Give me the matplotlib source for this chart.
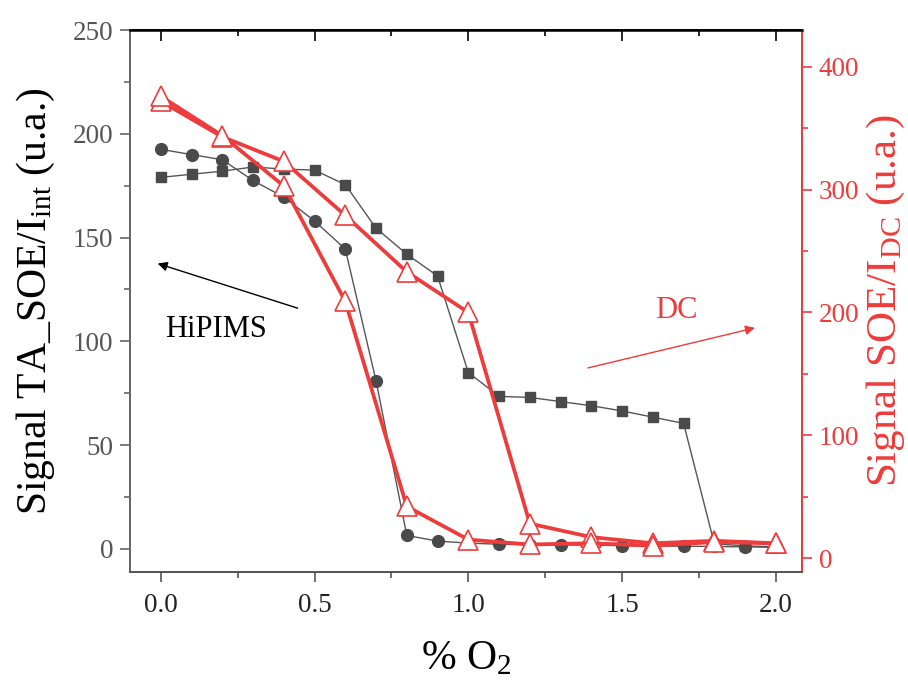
import matplotlib
matplotlib.use("Agg")
import matplotlib.pyplot as plt
from matplotlib.ticker import MultipleLocator

plt.rcParams['font.family'] = ['Liberation Serif', 'DejaVu Serif']
plt.rcParams['mathtext.fontset'] = 'custom'
plt.rcParams['mathtext.rm'] = 'Liberation Serif'
plt.rcParams['mathtext.it'] = 'Liberation Serif:italic'

# HiPIMS data (left axis)
o2_hipims = [0.0, 0.1, 0.2, 0.3, 0.4, 0.5, 0.6, 0.7, 0.8, 0.9, 1.0,
             1.1, 1.2, 1.3, 1.4, 1.5, 1.6, 1.7, 1.8, 1.9, 2.0]
squares = [179, 180.5, 182, 184, 183, 182.5, 175.5, 154.5, 142, 131.5, 85,
           73.5, 73, 71, 69, 66.5, 63.5, 60.5, 2.5, 1.5, 1.0]
circles = [192.5, 190, 187.5, 177.5, 169.5, 158, 144.5, 81, 6.5, 3.8, 2.8,
           2.3, 2.0, 2.0, 1.8, 1.6, 1.5, 1.3, 1.2, 1.0, 0.8]

# DC data (right axis)
o2_dc = [0.0, 0.2, 0.4, 0.6, 0.8, 1.0, 1.2, 1.4, 1.6, 1.8, 2.0]
dc_a = [372, 343, 323, 279, 233, 200, 28, 17, 12, 14, 12]
dc_b = [376, 344, 303, 209, 42, 15, 11, 12, 10, 13, 12]

grey = '#4a4a4a'
red = '#EE3B3B'

fig = plt.figure(figsize=(9.08, 6.80), dpi=100)
ax = fig.add_axes([130/908, 1-572/680, (802-130)/908, (572-30)/680])
ax2 = ax.twinx()

ax.plot(o2_hipims, squares, color='#555555', lw=1.0, marker='s', ms=7,
        mfc=grey, mec=grey, zorder=3)
ax.plot(o2_hipims, circles, color='#555555', lw=1.0, marker='o', ms=8.5,
        mfc=grey, mec=grey, zorder=3)

for vals in (dc_a, dc_b):
    ax2.plot(o2_dc, vals, color=red, lw=2.7, marker='^', ms=15,
             mfc='white', mec=red, mew=1.2, zorder=3)

ax.set_xlim(-0.1, 2.085)
ax.set_ylim(-11.1, 250)
ax2.set_ylim(-11.4, 430)

ax.xaxis.set_major_locator(MultipleLocator(0.5))
ax.xaxis.set_minor_locator(MultipleLocator(0.25))
ax.yaxis.set_major_locator(MultipleLocator(50))
ax.yaxis.set_minor_locator(MultipleLocator(25))
ax2.yaxis.set_major_locator(MultipleLocator(100))
ax2.yaxis.set_minor_locator(MultipleLocator(50))

ax.xaxis.set_major_formatter(matplotlib.ticker.FormatStrFormatter('%.1f'))

ax.tick_params(axis='x', which='both', direction='out', bottom=True, top=False,
               labelsize=19.5, colors='#555555', labelcolor='#222222', pad=8)
ax.tick_params(axis='x', which='major', length=7, width=1.2)
ax.tick_params(axis='x', which='minor', length=4, width=1.2)
ax.tick_params(axis='y', which='both', direction='out', left=True, right=False,
               labelsize=19.5, colors='#666666', labelcolor='#555555', pad=5)
ax.tick_params(axis='y', which='major', length=7, width=1.2)
ax.tick_params(axis='y', which='minor', length=4, width=1.2)

# top inward ticks
sec = ax.secondary_xaxis('top')
sec.xaxis.set_major_locator(MultipleLocator(0.5))
sec.xaxis.set_minor_locator(MultipleLocator(0.25))
sec.tick_params(axis='x', which='both', direction='in', labeltop=False, colors='black', width=1.2)
sec.tick_params(axis='x', which='major', length=8)
sec.tick_params(axis='x', which='minor', length=4)
sec.spines['top'].set_visible(False)

ax2.tick_params(axis='y', which='both', direction='out', colors=red,
                labelsize=19.5, labelcolor=red, width=1.2, pad=5)
ax2.tick_params(axis='y', which='major', length=7)
ax2.tick_params(axis='y', which='minor', length=4)

for a in (ax, ax2):
    a.spines['left'].set_color('#666666')
    a.spines['bottom'].set_color('#555555')
    a.spines['top'].set_color('black')
    a.spines['right'].set_color(red)
    for s in a.spines.values():
        s.set_linewidth(1.3)
ax2.spines['top'].set_linewidth(1.8)

ax.set_xlabel('% O$_2$', fontsize=30, labelpad=16)
ax.set_ylabel(r'Signal TA_SOE/I$_{\mathrm{int}}$ (u.a.)', fontsize=30, labelpad=11)
ax2.set_ylabel(r'Signal SOE/I$_{\mathrm{DC}}$ (u.a.)', fontsize=31, color=red, labelpad=4)

ax.annotate('', xy=(-0.01, 137.5), xytext=(0.445, 116),
            arrowprops=dict(arrowstyle='-|>', color='black', lw=1.0,
                            mutation_scale=14, shrinkA=0, shrinkB=0))
ax.text(0.013, 105.5, 'HiPIMS', fontsize=22, color='black', va='center', ha='left')

ax.annotate('', xy=(1.932, 106.5), xytext=(1.389, 87.2),
            arrowprops=dict(arrowstyle='-|>', color=red, lw=1.0,
                            mutation_scale=14, shrinkA=0, shrinkB=0))
ax.text(1.607, 115, 'DC', fontsize=22, color=red, va='center', ha='left')

fig.savefig('out.png', dpi=100)
